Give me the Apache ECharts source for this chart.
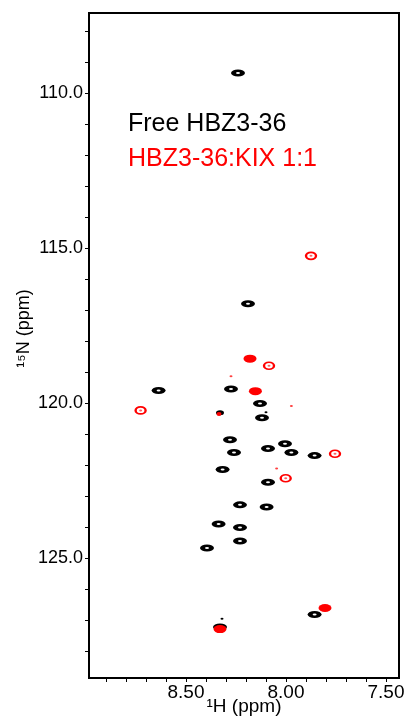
<!DOCTYPE html>
<html>
<head>
<meta charset="utf-8">
<script src="https://cdn.jsdelivr.net/npm/echarts@6/dist/echarts.min.js"></script>
<style>
html,body{margin:0;padding:0;background:#fff;}
#chart{width:409px;height:723px;}
</style>
</head>
<body>
<div id="chart"></div>
<script>
// 1H / 15N chemical shifts (ppm)
const freeH = [8.24, 8.19, 8.637, 8.275, 8.13, 8.12, 8.28, 8.09, 8.005, 8.26, 7.973, 7.857, 8.317, 8.09, 8.23, 8.097, 8.337, 8.23, 8.23, 8.395, 7.857, 8.33];
const freeN = [109.34, 116.79, 119.59, 119.54, 120.01, 120.47, 121.18, 121.46, 121.31, 121.59, 121.59, 121.69, 122.14, 122.55, 123.28, 123.35, 123.9, 124.01, 124.45, 124.67, 126.82, 127.22];
const freeSmallH = [8.33];
const freeSmallN = [120.31];
const freeWeakH = [8.10, 8.32];
const freeWeakN = [120.29, 126.96];
const boundStrongH = [8.18, 8.153, 7.805, 8.33];
const boundStrongN = [118.56, 119.61, 126.61, 127.29];
const boundSmallH = [8.335];
const boundSmallN = [120.35];
const boundRingH = [7.875, 8.085, 8.727, 7.755, 8.0015];
const boundRingN = [115.24, 118.79, 120.23, 121.63, 122.42];
const boundWeakH = [8.275, 7.973, 8.047];
const boundWeakN = [119.13, 120.09, 122.11];

const xTicks = [7.5, 7.6, 7.7, 7.8, 7.9, 8.0, 8.1, 8.2, 8.3, 8.4, 8.5, 8.6, 8.7, 8.8, 8.9];
const xLabels = [7.5, 8.0, 8.5];
const yTicks = [108,109,110,111,112,113,114,115,116,117,118,119,120,121,122,123,124,125,126,127,128];
const yLabels = [110, 115, 120, 125];

const nameFree = 'Free HBZ3-36';
const nameBound = 'HBZ3-36:KIX 1:1';

function pts(h, n) { return h.map((v, i) => [v, n[i]]); }

const FONT = '"Liberation Sans", Arial, Helvetica, sans-serif';
const chart = echarts.init(document.getElementById('chart'), null, {renderer: 'canvas'});
chart.setOption({
  animation: false,
  backgroundColor: '#fff',
  textStyle: {fontFamily: FONT},
  grid: {left: 89, right: 10, top: 13, bottom: 45, show: true, borderColor: '#000', borderWidth: 2,
         backgroundColor: 'transparent', containLabel: false, outerBoundsMode: 'none'},
  legend: {
    left: 123, top: 112, padding: 0, orient: 'vertical', icon: 'none', itemWidth: 0, itemHeight: 25, itemGap: 10,
    selectedMode: false,
    data: [
      {name: nameFree, textStyle: {color: '#000'}},
      {name: nameBound, textStyle: {color: '#ff0000'}}
    ],
    textStyle: {fontSize: 25, fontFamily: FONT, lineHeight: 25}
  },
  xAxis: {
    type: 'value', inverse: true, min: 7.435, max: 8.985,
    name: '\u00B9H (ppm)', nameLocation: 'middle', nameGap: 19, nameMoveOverlap: false,
    nameTextStyle: {fontSize: 19, color: '#000', fontFamily: FONT},
    axisLine: {show: true, lineStyle: {color: '#000', width: 2}},
    axisTick: {show: true, inside: false, length: 4, lineStyle: {color: '#000', width: 1}, customValues: xTicks},
    axisLabel: {show: true, fontSize: 19, color: '#000', margin: 5, customValues: xLabels, formatter: v => v.toFixed(2)},
    splitLine: {show: false}
  },
  yAxis: {
    type: 'value', inverse: true, min: 107.4, max: 128.87,
    name: '\u00B9\u2075N (ppm)', nameLocation: 'middle', nameGap: 56, nameMoveOverlap: false,
    nameTextStyle: {fontSize: 18, color: '#000', fontFamily: FONT, padding: [0, 0, 0, 34]},
    axisLine: {show: true, lineStyle: {color: '#000', width: 2}},
    axisTick: {show: true, inside: false, length: 4, lineStyle: {color: '#000', width: 1}, customValues: yTicks},
    axisLabel: {show: true, fontSize: 18, color: '#000', margin: 6, customValues: yLabels, formatter: v => v.toFixed(1)},
    splitLine: {show: false}
  },
  series: [
    {name: nameFree, type: 'scatter', data: pts(freeH, freeN), symbol: 'circle', symbolSize: [14, 7],
     itemStyle: {color: '#000', opacity: 1}, z: 2},
    {name: nameFree, type: 'scatter', data: pts(freeH, freeN), symbol: 'circle', symbolSize: [4, 2],
     itemStyle: {color: '#fff', opacity: 1}, z: 3, silent: true},
    {name: nameFree, type: 'scatter', data: pts(freeSmallH, freeSmallN), symbol: 'circle', symbolSize: [8, 5],
     itemStyle: {color: '#000', opacity: 1}, z: 2},
    {name: nameFree, type: 'scatter', data: pts(freeWeakH, freeWeakN), symbol: 'circle', symbolSize: [3, 2],
     itemStyle: {color: '#000', opacity: 1}, z: 2},
    {name: nameBound, type: 'scatter', data: pts(boundStrongH, boundStrongN), symbol: 'circle', symbolSize: [13, 8],
     itemStyle: {color: '#ff0000', opacity: 1}, z: 4},
    {name: nameBound, type: 'scatter', data: pts(boundSmallH, boundSmallN), symbol: 'circle', symbolSize: [5, 4],
     itemStyle: {color: '#ff0000', opacity: 1}, z: 4},
    {name: nameBound, type: 'scatter', data: pts(boundRingH, boundRingN), symbol: 'circle', symbolSize: [10, 7],
     itemStyle: {color: '#fff', borderColor: '#ff0000', borderWidth: 2, opacity: 1}, z: 4},
    {name: nameBound, type: 'scatter', data: pts(boundRingH, boundRingN), symbol: 'circle', symbolSize: [3, 2],
     itemStyle: {color: '#ff6060', opacity: 1}, z: 5, silent: true},
    {name: nameBound, type: 'scatter', data: pts(boundWeakH, boundWeakN), symbol: 'circle', symbolSize: [3, 2],
     itemStyle: {color: '#ff4040', opacity: 1}, z: 4}
  ]
});
</script>
</body>
</html>
